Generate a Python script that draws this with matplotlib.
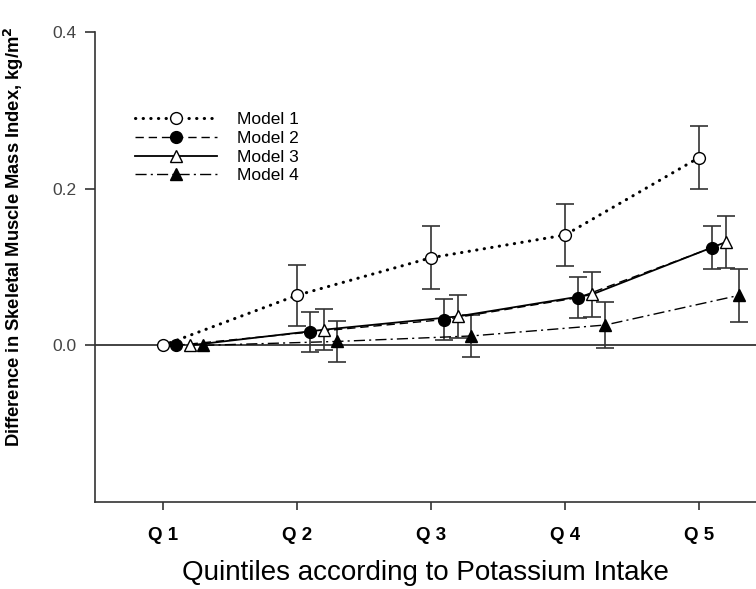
import numpy as np
import matplotlib
matplotlib.use('Agg')
import matplotlib.pyplot as plt

plt.rcParams['font.family'] = ['Liberation Sans', 'DejaVu Sans']

# Datos
quintiles = ['Q 1', 'Q 2', 'Q 3', 'Q 4', 'Q 5']
modelos = ['Model 1', 'Model 2', 'Model 3', 'Model 4']

model1 = [0.0, 0.064, 0.112, 0.141, 0.240]
model2 = [0.0, 0.017, 0.033, 0.061, 0.125]
model3 = [0.0, 0.020, 0.037, 0.065, 0.132]
model4 = [0.0, 0.005, 0.012, 0.026, 0.064]

err1 = [0.0, 0.039, 0.040, 0.040, 0.040]
err2 = [0.0, 0.026, 0.026, 0.026, 0.027]
err3 = [0.0, 0.026, 0.027, 0.029, 0.033]
err4 = [0.0, 0.026, 0.027, 0.029, 0.034]

offsets = [0.0, 0.1, 0.2, 0.3]

valores = [model1, model2, model3, model4]
errores = [err1, err2, err3, err4]
estilos = [
    dict(linestyle=(0, (0.1, 2.4)), lw=2.2, dash_capstyle='round', marker='o', mfc='white'),
    dict(linestyle=(0, (6, 3.5)), lw=1.0, marker='o', mfc='black'),
    dict(linestyle='-', lw=1.3, marker='^', mfc='white'),
    dict(linestyle=(0, (8, 3, 1.5, 3)), lw=1.0, marker='^', mfc='black'),
]

fig = plt.figure(figsize=(7.56, 5.89), dpi=100)
ax = fig.add_axes([0.1257, 0.148, 0.8743, 0.797])

x = np.arange(1, len(quintiles) + 1)
ax.axhline(0, color='#222222', lw=1.2, zorder=1)

for i in range(len(modelos)):
    xs = x + offsets[i]
    ax.errorbar(xs[1:], valores[i][1:], yerr=errores[i][1:], fmt='none',
                ecolor='#333333', elinewidth=1.2, capsize=6.5, capthick=1.2, zorder=2)
    ax.plot(xs, valores[i], color='black', mec='black', ms=8.5, mew=1.0,
            label=modelos[i], zorder=3, **estilos[i])

ax.set_xlim(0.4925, 5.425)
ax.set_ylim(-0.2, 0.4)
ax.set_xticks(x)
ax.set_xticklabels(quintiles, fontsize=13.5, fontweight='bold')
ax.set_yticks([0.0, 0.2, 0.4])
ax.set_yticklabels(['0.0', '0.2', '0.4'], fontsize=12.5, color='#444444')

ax.tick_params(axis='x', direction='out', length=6, width=1.2, color='#333333', pad=12)
ax.tick_params(axis='y', direction='out', length=7, width=1.2, color='#333333', pad=6)

ax.spines['top'].set_visible(False)
ax.spines['right'].set_visible(False)
for s in ['left', 'bottom']:
    ax.spines[s].set_color('#333333')
    ax.spines[s].set_linewidth(1.2)

ax.set_ylabel('Difference in Skeletal Muscle Mass Index, kg/m$^\\mathbf{2}$',
              fontsize=13.2, fontweight='bold')
ax.yaxis.set_label_coords(-0.105, 0.565)
ax.set_xlabel('Quintiles according to Potassium Intake', fontsize=20, labelpad=12)

ax.legend(loc='upper left', bbox_to_anchor=(0.0605, 0.83), frameon=False,
          fontsize=12.5, handlelength=4.7, handletextpad=1.2, labelspacing=0.2,
          borderaxespad=0, borderpad=0)

fig.savefig('out.png', dpi=100)
